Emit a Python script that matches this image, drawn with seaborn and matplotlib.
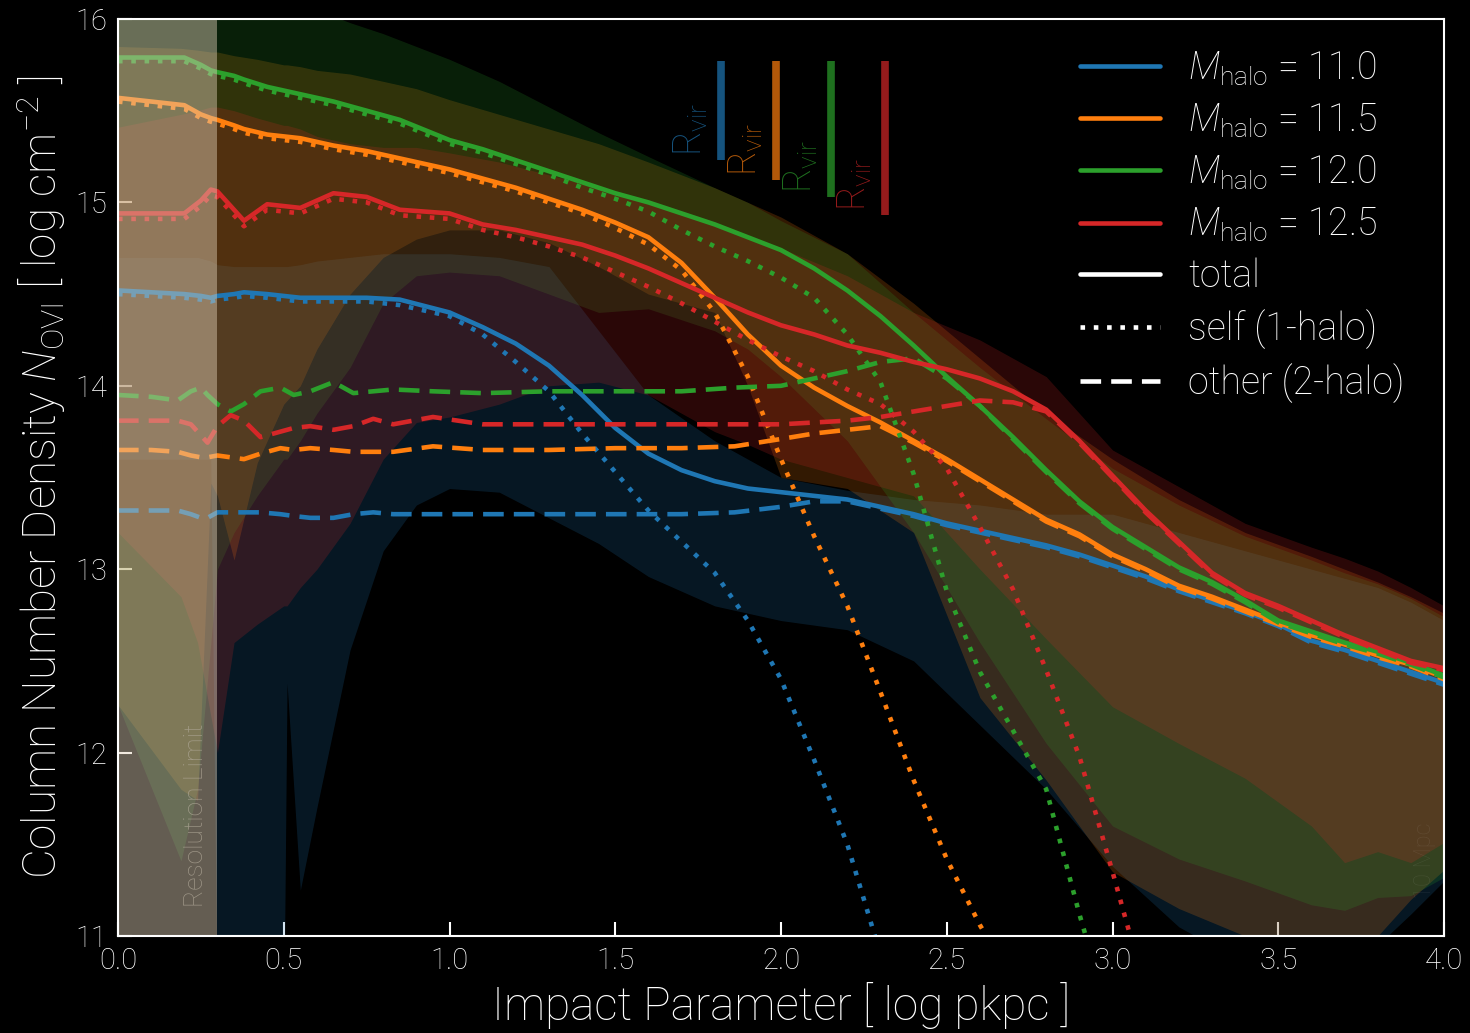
import matplotlib
matplotlib.use('Agg')
import matplotlib.pyplot as plt
from matplotlib.lines import Line2D
import numpy as np
import pandas as pd
import seaborn as sns

# halo masses and colours
masses = [11.0, 11.5, 12.0, 12.5]
colors = ['#1f77b4', '#ff7f0e', '#2ca02c', '#d62728']

# virial radii [log pkpc] and bottom of the marker bars
rvir_log = [1.82, 1.985, 2.15, 2.315]
rvir_bar_bottom = [15.23, 15.12, 15.03, 14.93]
rvir_bar_top = 15.77

# --- total profiles (median) ---
tot_x = [0.0, 0.1, 0.2, 0.25, 0.28, 0.3, 0.35, 0.38, 0.45, 0.55, 0.65, 0.75, 0.85,
         1.0, 1.1, 1.2, 1.3, 1.4, 1.5, 1.6, 1.7, 1.8, 1.9, 2.0, 2.1, 2.2, 2.3, 2.4,
         2.5, 2.6, 2.7, 2.8, 2.9, 3.0, 3.1, 3.2, 3.3, 3.4, 3.5, 3.6, 3.7, 3.8, 3.9, 4.0]
tot_110 = [14.52, 14.51, 14.50, 14.49, 14.48, 14.49, 14.50, 14.51, 14.50, 14.48, 14.48, 14.48, 14.47,
           14.40, 14.32, 14.23, 14.11, 13.95, 13.77, 13.63, 13.54, 13.48, 13.44, 13.42, 13.40, 13.38, 13.34, 13.30,
           13.25, 13.21, 13.17, 13.13, 13.08, 13.02, 12.96, 12.89, 12.83, 12.77, 12.70, 12.61, 12.56, 12.50, 12.44, 12.38]
tot_115 = [15.57, 15.55, 15.53, 15.48, 15.46, 15.45, 15.42, 15.40, 15.37, 15.35, 15.31, 15.28, 15.24,
           15.18, 15.13, 15.08, 15.02, 14.96, 14.89, 14.81, 14.67, 14.48, 14.28, 14.11, 13.99, 13.89, 13.80, 13.70,
           13.60, 13.49, 13.38, 13.27, 13.19, 13.08, 13.00, 12.91, 12.85, 12.78, 12.71, 12.64, 12.59, 12.53, 12.48, 12.41]
tot_120 = [15.79, 15.79, 15.79, 15.75, 15.72, 15.71, 15.69, 15.67, 15.63, 15.59, 15.55, 15.50, 15.45,
           15.34, 15.29, 15.23, 15.17, 15.11, 15.05, 15.00, 14.94, 14.88, 14.81, 14.74, 14.64, 14.52, 14.38, 14.22,
           14.05, 13.89, 13.72, 13.54, 13.37, 13.23, 13.12, 13.01, 12.93, 12.83, 12.72, 12.66, 12.60, 12.55, 12.49, 12.42]
tot_125 = [14.94, 14.94, 14.94, 15.01, 15.07, 15.06, 14.96, 14.90, 14.99, 14.97, 15.05, 15.03, 14.96,
           14.94, 14.88, 14.85, 14.81, 14.77, 14.71, 14.64, 14.56, 14.48, 14.40, 14.33, 14.28, 14.22, 14.18, 14.13,
           14.09, 14.04, 13.97, 13.87, 13.70, 13.51, 13.32, 13.15, 12.98, 12.87, 12.80, 12.72, 12.64, 12.57, 12.50, 12.46]

# --- self (1-halo) profiles ---
self_x = [0.0, 0.1, 0.2, 0.25, 0.28, 0.3, 0.35, 0.38, 0.45, 0.55, 0.65, 0.75, 0.85,
          1.0, 1.1, 1.2, 1.3, 1.4, 1.5, 1.6, 1.7, 1.8, 1.9, 2.0, 2.1, 2.2, 2.3, 2.4,
          2.5, 2.6, 2.7, 2.8, 2.9, 3.0, 3.1]
self_110 = [14.50, 14.49, 14.48, 14.47, 14.46, 14.47, 14.48, 14.49, 14.48, 14.46, 14.46, 14.46, 14.44,
            14.38, 14.28, 14.13, 13.97, 13.74, 13.53, 13.32, 13.15, 12.98, 12.72, 12.40, 11.96, 11.50, 10.90, 10.3,
            9.8, 9.4, 9.0, 8.6, 8.2, 7.8, 7.4]
self_115 = [15.55, 15.53, 15.51, 15.46, 15.44, 15.43, 15.40, 15.38, 15.35, 15.33, 15.29, 15.26, 15.22,
            15.16, 15.11, 15.06, 15.00, 14.94, 14.86, 14.77, 14.63, 14.40, 14.05, 13.60, 13.18, 12.80, 12.33, 11.85,
            11.42, 11.06, 10.75, 10.4, 10.0, 9.6, 9.2]
self_120 = [15.77, 15.77, 15.77, 15.73, 15.70, 15.69, 15.67, 15.65, 15.61, 15.57, 15.53, 15.48, 15.43,
            15.32, 15.27, 15.21, 15.15, 15.08, 15.02, 14.95, 14.85, 14.76, 14.68, 14.59, 14.48, 14.28, 14.02, 13.52,
            12.88, 12.44, 12.12, 11.80, 11.12, 10.5, 10.0]
self_125 = [14.91, 14.91, 14.91, 14.98, 15.04, 15.03, 14.93, 14.87, 14.96, 14.94, 15.02, 15.00, 14.93,
            14.91, 14.85, 14.81, 14.76, 14.70, 14.62, 14.54, 14.45, 14.35, 14.25, 14.16, 14.08, 13.98, 13.90, 13.75,
            13.55, 13.23, 12.89, 12.45, 11.98, 11.35, 10.7]

# --- other (2-halo) profiles ---
oth_x = [0.0, 0.1, 0.18, 0.22, 0.25, 0.27, 0.3, 0.34, 0.38, 0.43, 0.49, 0.53, 0.58, 0.65, 0.71, 0.77, 0.83,
         0.95, 1.1, 1.3, 1.5, 1.7, 1.86, 2.0, 2.1, 2.2, 2.3, 2.4, 2.5, 2.6, 2.7, 2.8, 2.9, 3.0,
         3.1, 3.2, 3.3, 3.4, 3.5, 3.6, 3.7, 3.8, 3.9, 4.0]
oth_110 = [13.32, 13.32, 13.32, 13.30, 13.28, 13.28, 13.31, 13.31, 13.31, 13.31, 13.30, 13.29, 13.28, 13.28, 13.30, 13.31, 13.30,
           13.30, 13.30, 13.30, 13.30, 13.30, 13.31, 13.34, 13.37, 13.37, 13.33, 13.29, 13.24, 13.20, 13.16, 13.12, 13.07, 13.01,
           12.95, 12.88, 12.82, 12.76, 12.69, 12.60, 12.55, 12.49, 12.43, 12.37]
oth_115 = [13.65, 13.65, 13.64, 13.62, 13.61, 13.61, 13.62, 13.61, 13.60, 13.63, 13.66, 13.65, 13.66, 13.65, 13.64, 13.64, 13.64,
           13.67, 13.65, 13.65, 13.66, 13.66, 13.67, 13.71, 13.74, 13.76, 13.78, 13.69, 13.59, 13.48, 13.37, 13.26, 13.18, 13.07,
           12.99, 12.90, 12.84, 12.77, 12.70, 12.63, 12.58, 12.52, 12.47, 12.40]
oth_120 = [13.95, 13.94, 13.92, 13.97, 13.99, 13.95, 13.90, 13.86, 13.90, 13.97, 13.99, 13.95, 13.97, 14.02, 13.96, 13.97, 13.98,
           13.97, 13.96, 13.97, 13.97, 13.97, 13.99, 14.00, 14.04, 14.08, 14.13, 14.15, 14.04, 13.89, 13.71, 13.53, 13.36, 13.22,
           13.11, 13.00, 12.92, 12.82, 12.71, 12.65, 12.59, 12.54, 12.48, 12.41]
oth_125 = [13.81, 13.81, 13.81, 13.79, 13.73, 13.69, 13.78, 13.84, 13.81, 13.72, 13.75, 13.77, 13.78, 13.76, 13.78, 13.82, 13.79,
           13.83, 13.79, 13.79, 13.79, 13.79, 13.79, 13.79, 13.80, 13.81, 13.83, 13.86, 13.89, 13.92, 13.91, 13.86, 13.69, 13.50,
           13.31, 13.14, 12.97, 12.86, 12.79, 12.71, 12.63, 12.56, 12.49, 12.45]

# --- scatter bands (lower / upper percentiles of total) ---
band_x = [0.0, 0.19, 0.24, 0.28, 0.3, 0.35, 0.42, 0.5, 0.51, 0.55, 0.6, 0.7, 0.8, 0.9, 1.0, 1.15, 1.3, 1.45,
          1.6, 1.8, 1.9, 2.0, 2.2, 2.4, 2.6, 2.8, 3.0, 3.2, 3.4, 3.6, 3.7, 3.8, 3.9, 4.0]
lo_110 = [13.60, 13.60, 13.60, 13.60, 10.50, 10.50, 10.50, 10.50, 12.38, 11.25, 11.70, 12.56, 13.10, 13.35, 13.44, 13.42, 13.28, 13.14,
          12.96, 12.80, 12.76, 12.72, 12.67, 12.50, 12.15, 11.80, 11.38, 11.05, 10.85, 10.75, 10.80, 10.95, 11.12, 11.30]
hi_110 = [14.70, 14.70, 14.70, 14.68, 14.66, 14.65, 14.65, 14.65, 14.65, 14.66, 14.68, 14.70, 14.72, 14.72, 14.72, 14.70, 14.65, 14.30,
          13.95, 13.70, 13.60, 13.50, 13.43, 13.38, 13.35, 13.30, 13.30, 13.20, 13.10, 13.00, 12.95, 12.90, 12.82, 12.72]
lo_115 = [12.26, 11.80, 11.74, 13.47, 13.40, 13.05, 13.58, 13.90, 13.92, 14.00, 14.20, 14.50, 14.70, 14.80, 14.85, 14.85, 14.78, 14.65,
          14.50, 14.40, 14.00, 13.50, 13.44, 13.20, 12.30, 11.85, 11.35, 11.15, 11.00, 10.85, 10.85, 11.00, 11.20, 11.36]
hi_115 = [15.85, 15.84, 15.83, 15.82, 15.82, 15.80, 15.78, 15.75, 15.75, 15.74, 15.72, 15.70, 15.66, 15.62, 15.56, 15.48, 15.40, 15.32,
          15.22, 15.08, 15.00, 14.92, 14.72, 14.45, 14.15, 13.85, 13.60, 13.38, 13.20, 13.07, 13.00, 12.93, 12.85, 12.76]
lo_120 = [12.26, 11.41, 11.80, 12.60, 13.00, 13.20, 13.40, 13.60, 13.60, 13.70, 13.85, 14.10, 14.45, 14.60, 14.62, 14.60, 14.50, 14.40,
          14.42, 14.30, 14.20, 14.05, 13.70, 13.20, 12.60, 12.05, 11.60, 11.42, 11.30, 11.17, 11.14, 11.21, 11.22, 11.32]
hi_120 = [16.30, 16.28, 16.27, 16.26, 16.25, 16.22, 16.15, 16.10, 16.10, 16.08, 16.05, 15.98, 15.92, 15.85, 15.78, 15.66, 15.52, 15.38,
          15.25, 15.08, 15.00, 14.90, 14.72, 14.40, 14.10, 13.82, 13.55, 13.35, 13.18, 13.05, 12.98, 12.92, 12.84, 12.74]
lo_125 = [13.20, 12.85, 12.60, 12.20, 12.00, 12.60, 12.70, 12.80, 12.80, 12.90, 13.00, 13.25, 13.60, 13.80, 13.83, 13.90, 14.00, 14.02,
          13.95, 13.75, 13.68, 13.60, 13.50, 13.40, 13.00, 12.62, 12.25, 12.05, 11.86, 11.60, 11.40, 11.46, 11.40, 11.51]
hi_125 = [15.41, 15.48, 15.50, 15.52, 15.52, 15.50, 15.46, 15.42, 15.42, 15.40, 15.36, 15.32, 15.30, 15.30, 15.27, 15.22, 15.15, 15.08,
          15.00, 14.88, 14.82, 14.75, 14.60, 14.40, 14.25, 14.05, 13.65, 13.45, 13.25, 13.12, 13.06, 12.99, 12.90, 12.80]

res_limit = 0.3

totals = [tot_110, tot_115, tot_120, tot_125]
selfs = [self_110, self_115, self_120, self_125]
others = [oth_110, oth_115, oth_120, oth_125]
lows = [lo_110, lo_115, lo_120, lo_125]
highs = [hi_110, hi_115, hi_120, hi_125]

sns.set_style('dark', rc={'axes.facecolor': 'black', 'figure.facecolor': 'black',
                          'axes.edgecolor': 'white', 'text.color': 'white',
                          'axes.labelcolor': 'white', 'xtick.color': 'white', 'ytick.color': 'white',
                          'axes.grid': False})
plt.rcParams['font.family'] = ['Roboto', 'DejaVu Sans']
plt.rcParams['font.weight'] = 'light'
plt.rcParams['axes.labelweight'] = 'light'
plt.rcParams['mathtext.fontset'] = 'custom'
plt.rcParams['mathtext.rm'] = 'Roboto:light'
plt.rcParams['mathtext.it'] = 'Roboto:light:italic'
plt.rcParams['mathtext.bf'] = 'Roboto:bold'

fig = plt.figure(figsize=(14.7, 10.33), dpi=100)
ax = fig.add_axes([118 / 1470, 1 - 936 / 1033, 1326 / 1470, 917 / 1033])

# bands
for c, lo, hi in zip(colors, lows, highs):
    ax.fill_between(band_x, lo, hi, color=c, alpha=0.2, lw=0)

dot_style = (0, (1, 1.9))
dash_style = (0, (4.5, 2.2))
for c, t, s, o in zip(colors, totals, selfs, others):
    sns.lineplot(x=tot_x, y=t, ax=ax, color=c, lw=3.3, estimator=None)
    sns.lineplot(x=self_x, y=s, ax=ax, color=c, lw=3.3, linestyle=dot_style, estimator=None)
    sns.lineplot(x=oth_x, y=o, ax=ax, color=c, lw=3.3, linestyle=dash_style, estimator=None)

# resolution limit
ax.axvspan(0, res_limit, color='#e0d0b8', alpha=0.45, lw=0, zorder=5)
ax.text(0.235, 11.16, 'Resolution Limit', rotation=90, ha='center', va='bottom',
        color='#b0a898', fontsize=19, alpha=0.75, zorder=6)
ax.text(3.94, 11.2, '10 Mpc', rotation=90, ha='center', va='bottom',
        color='white', fontsize=17, alpha=0.08, zorder=6)

# virial radius markers
for c, r, b in zip(colors, rvir_log, rvir_bar_bottom):
    ax.plot([r, r], [b, rvir_bar_top], color=c, alpha=0.7, lw=5.5, solid_capstyle='butt')
    ax.annotate(r'R$_{\rm vir}$', xy=(r, b), xytext=(-8, 3), textcoords='offset points',
                rotation=90, ha='right', va='bottom', color=c, alpha=0.7, fontsize=27)

ax.set_xlim(0, 4)
ax.set_ylim(11, 16)
ax.set_xticks([0, 0.5, 1.0, 1.5, 2.0, 2.5, 3.0, 3.5, 4.0])
ax.set_yticks([11, 12, 13, 14, 15, 16])
ax.xaxis.set_major_formatter(matplotlib.ticker.FormatStrFormatter('%.1f'))
ax.tick_params(direction='in', length=10, width=1.5, labelsize=21, pad=8,
               bottom=True, left=True, top=False, right=False)
for sp in ax.spines.values():
    sp.set_linewidth(1.5)
    sp.set_color('white')
    sp.set_zorder(10)

ax.set_xlabel('Impact Parameter [ log pkpc ]', fontsize=33, labelpad=5, fontweight='light')
ax.set_ylabel(r'Column Number Density $N_{\rm OVI}$ [ log cm$^{-2}$ ]', fontsize=33, labelpad=5,
              fontweight='light')

handles = [Line2D([], [], color=c, lw=3.3) for c in colors]
labels = [r'$M_{\rm halo}$ = %.1f' % m for m in masses]
handles += [Line2D([], [], color='white', lw=3.3),
            Line2D([], [], color='white', lw=3.3, linestyle=dot_style),
            Line2D([], [], color='white', lw=3.3, linestyle=dash_style)]
labels += ['total', 'self (1-halo)', 'other (2-halo)']
ax.legend(handles, labels, loc='upper left', bbox_to_anchor=(0.7255, 0.967), frameon=False,
          fontsize=27, handlelength=2.13, handletextpad=0.75, labelspacing=0.37,
          borderpad=0, borderaxespad=0)

fig.savefig('out.png', dpi=100, facecolor='black')
